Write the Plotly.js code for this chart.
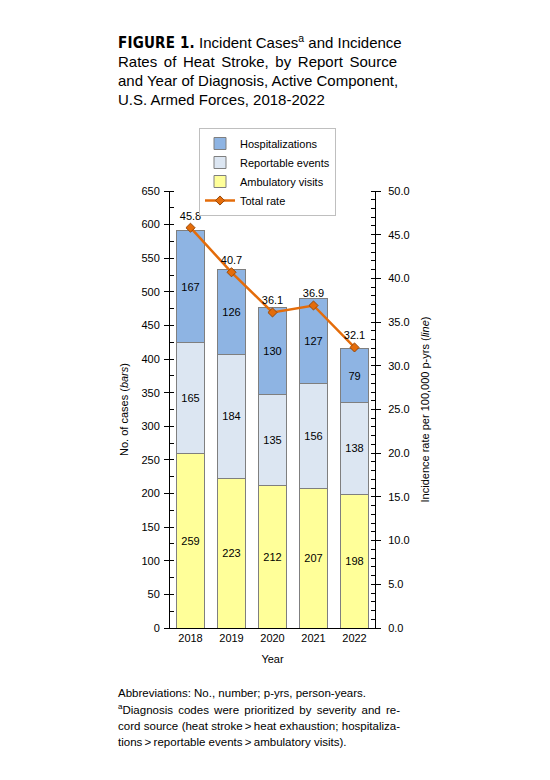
<!DOCTYPE html>
<html>
<head>
<meta charset="utf-8">
<script src="https://cdn.plot.ly/plotly-3.0.1.min.js"></script>
<style>
  html, body { margin: 0; padding: 0; background: #fff; }
  #chart { width: 550px; height: 780px; }
</style>
</head>
<body>
<div id="chart"></div>
<script>
// data
const years = ['2018', '2019', '2020', '2021', '2022'];
const ambulatory = [259, 223, 212, 207, 198];
const reportable = [165, 184, 135, 156, 138];
const hospitalizations = [167, 126, 130, 127, 79];
const totalRate = [45.8, 40.7, 36.1, 36.9, 32.1];

const titleLines = [
    ['FIGURE 1.', ' Incident Cases', 'a', ' and Incidence'],
    ['', 'Rates of Heat Stroke, by Report Source', '', ''],
    ['', 'and Year of Diagnosis, Active Component,', '', ''],
    ['', 'U.S. Armed Forces, 2018-2022', '', ''],
];
const noteLines = [
    ['', 'Abbreviations: No., number; p-yrs, person-years.'],
    ['a', 'Diagnosis codes were prioritized by severity and re-'],
    ['', 'cord source (heat stroke\u2009>\u2009heat exhaustion; hospitaliza-'],
    ['', 'tions\u2009>\u2009reportable events\u2009>\u2009ambulatory visits).'],
];

const font = 'Arial, "Liberation Sans", sans-serif';
const barLine = { color: '#7F7F7F', width: 1 };

// plot area in pixels: x 170..375, y 191..628
const px = x => (x - 170) / 205;
const py = y => (628 - y) / 437;

// word spacing needed to justify a line to a given width (the reference is justified)
const ctx = document.createElement('canvas').getContext('2d');
function textWidth(s, size, fam, bold) {
    ctx.font = (bold ? 'bold ' : '') + size + 'px ' + (fam || '"Liberation Sans", Arial');
    return ctx.measureText(s).width;
}
function spacingFor(width, target, plain) {
    const n = (plain.match(/ /g) || []).length;
    return n ? (target - width) / n : 0;
}
const esc = s => s.replace(/>/g, '&gt;');

const ambTrace = {
    x: years, y: ambulatory, type: 'bar', name: 'Ambulatory visits',
    marker: { color: '#FFFF99', line: barLine },
    text: ambulatory.map(String), textposition: 'inside', insidetextanchor: 'middle',
    textfont: { size: 11, color: '#000' }, legendrank: 3,
};
const repTrace = {
    x: years, y: reportable, type: 'bar', name: 'Reportable events',
    marker: { color: '#DCE6F2', line: barLine },
    text: reportable.map(String), textposition: 'inside', insidetextanchor: 'middle',
    textfont: { size: 11, color: '#000' }, legendrank: 2,
};
const hospTrace = {
    x: years, y: hospitalizations, type: 'bar', name: 'Hospitalizations',
    marker: { color: '#8EB4E3', line: barLine },
    text: hospitalizations.map(String), textposition: 'inside', insidetextanchor: 'middle',
    textfont: { size: 11, color: '#000' }, legendrank: 1,
};
const rateTrace = {
    x: years, y: totalRate, type: 'scatter', mode: 'lines+markers+text', name: 'Total rate',
    yaxis: 'y2',
    line: { color: '#E46C0A', width: 2.5 },
    marker: { symbol: 'diamond', size: 7, color: '#E46C0A', line: { color: '#984807', width: 1 } },
    text: totalRate.map(v => v.toFixed(1)), textposition: 'top center',
    textfont: { size: 11, color: '#000' }, legendrank: 4, cliponaxis: false,
};

const annotations = [];

// title, 15px, lines 1-3 justified to 279px
const titleY = [41.5, 61, 80.5, 100];
const titleSize = 15;
titleLines.forEach(([fig, a, sup, b], i) => {
    const w = (fig ? textWidth(fig, titleSize, '"DejaVu Sans Condensed"', true) + fig.length * 0.2 : 0) +
        textWidth(a + b, titleSize) + (sup ? textWidth(sup, titleSize * 0.7) : 0);
    const ws = i < 3 ? Math.max(0, spacingFor(w, 279, a + b)) : 0;
    let t = '';
    if (fig) t += '<b><span style="font-family:DejaVu Sans Condensed;letter-spacing:0.2px">' + fig + '</span></b>';
    t += esc(a);
    if (sup) t += '<sup>' + sup + '</sup>';
    t += esc(b);
    annotations.push({
        xref: 'paper', yref: 'paper', x: px(116), y: py(titleY[i]), xanchor: 'left', yanchor: 'middle',
        showarrow: false, font: { size: titleSize, family: font },
        text: '<span style="word-spacing:' + ws.toFixed(2) + 'px">' + t + '</span>',
    });
});

// footnote, lines 2-3 justified to 282px
const noteY = [692.5, 709, 725.5, 742];
const noteSize = 11.5;
noteLines.forEach(([sup, a], i) => {
    const w = textWidth(a, noteSize) + (sup ? textWidth(sup, noteSize * 0.7) : 0);
    const ws = (i === 1 || i === 2) ? spacingFor(w, 282, a) : 0;
    const t = (sup ? '<sup>' + sup + '</sup>' : '') + esc(a);
    annotations.push({
        xref: 'paper', yref: 'paper', x: px(116), y: py(noteY[i]), xanchor: 'left', yanchor: 'middle',
        showarrow: false, font: { size: noteSize, family: font },
        text: '<span style="word-spacing:' + ws.toFixed(2) + 'px">' + t + '</span>',
    });
});

const layout = {
    width: 550, height: 780,
    font: { family: font, size: 11, color: '#000' },
    paper_bgcolor: '#fff', plot_bgcolor: '#fff',
    margin: { l: 170, r: 175, t: 191, b: 152 },
    barmode: 'stack', bargap: 0.335,
    showlegend: true,
    legend: {
        x: px(199), y: py(128), xanchor: 'left', yanchor: 'top',
        bordercolor: '#BFBFBF', borderwidth: 1, bgcolor: '#fff',
        font: { size: 11 }, traceorder: 'normal', tracegroupgap: 0,
    },
    xaxis: {
        type: 'category',
        title: { text: 'Year', font: { size: 11 }, standoff: 12 },
        showline: true, linecolor: '#000', ticks: '', tickfont: { size: 11 },
        zeroline: false,
    },
    yaxis: {
        title: { text: 'No. of cases (<i>bars</i>)', font: { size: 11 }, standoff: 10 },
        range: [0, 650], dtick: 50, showgrid: false, zeroline: false,
        showline: true, linecolor: '#000', ticks: 'outside', ticklen: 5, tickcolor: '#000',
        minor: { dtick: 25, ticks: 'inside', ticklen: 4, tickcolor: '#000', showgrid: false },
        tickfont: { size: 11 }, ticklabelstandoff: 2,
    },
    yaxis2: {
        title: { text: 'Incidence rate per 100,000 p-yrs (<i>line</i>)', font: { size: 11 }, standoff: 12 },
        overlaying: 'y', side: 'right',
        range: [0, 50], dtick: 5, tickformat: '.1f', showgrid: false, zeroline: false,
        showline: true, linecolor: '#000', ticks: 'outside', ticklen: 5, tickcolor: '#000',
        minor: { dtick: 1, ticks: 'inside', ticklen: 4, tickcolor: '#000', showgrid: false },
        tickfont: { size: 11 }, ticklabelstandoff: 5,
    },
    annotations: annotations,
};

Plotly.newPlot('chart', [ambTrace, repTrace, hospTrace, rateTrace], layout, { displayModeBar: false });
</script>
</body>
</html>
